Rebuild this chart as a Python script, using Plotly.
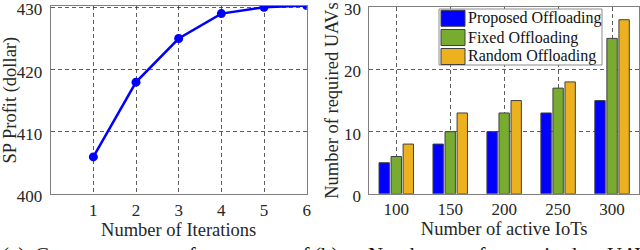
import plotly.graph_objects as go
from plotly.subplots import make_subplots

# Left panel data
iterations = [1, 2, 3, 4, 5, 6]
sp_profit = [406, 418, 425, 429, 430, 430.3]

# Right panel data
iot_counts = ["100", "150", "200", "250", "300"]
proposed = [5, 8, 10, 13, 15]
fixed = [6, 10, 13, 17, 25]
random_off = [8, 13, 15, 18, 28]
series_names = ["Proposed Offloading", "Fixed Offloading", "Random Offloading"]
series_colors = ["#0000FF", "#77AC30", "#EDB120"]

FONT = "Liberation Serif, Times New Roman, serif"
TXT = "#262626"
GRID = "rgba(40,40,40,0.75)"
FRAME = "#7f7f7f"
W, H = 640, 250

fig = make_subplots(rows=1, cols=2)

fig.add_trace(go.Scatter(
    x=iterations, y=sp_profit, mode="lines+markers",
    line=dict(color="#0000FF", width=2.5),
    marker=dict(color="#0000FF", size=9, symbol="circle"),
    showlegend=False), row=1, col=1)

for name, vals, col in zip(series_names, [proposed, fixed, random_off], series_colors):
    fig.add_trace(go.Bar(x=iot_counts, y=vals, name=name, showlegend=False,
                         marker=dict(color=col, line=dict(color="#404040", width=1))),
                  row=1, col=2)

axis_common = dict(showline=True, mirror=True, linecolor=FRAME, linewidth=1,
                   showgrid=True, gridcolor=GRID, griddash="4px,3px", gridwidth=1,
                   zeroline=False, ticks="", automargin=False,
                   ticklabeloverflow="allow",
                   tickfont=dict(family=FONT, size=17, color=TXT))

fig.update_xaxes(**axis_common)
fig.update_yaxes(**axis_common)

title_font = dict(family=FONT, size=18.5, color=TXT)
fig.update_xaxes(domain=[0.0792, 0.4792], range=[0, 6], tickvals=iterations,
                 ticklabelstandoff=0,
                 title=dict(text="Number of Iterations", standoff=1, font=title_font),
                 row=1, col=1)
fig.update_yaxes(domain=[0.2228, 0.9756], range=[400, 430.2], tickvals=[400, 410, 420, 430],
                 ticklabelstandoff=4, ticklabelshift=2,
                 title=dict(text="SP Profit (dollar)", standoff=8, font=title_font),
                 row=1, col=1)
fig.update_xaxes(domain=[0.577, 0.9985], ticklabelstandoff=0,
                 title=dict(text="Number of active IoTs", standoff=1, font=title_font),
                 row=1, col=2)
fig.update_yaxes(domain=[0.2248, 0.9708], range=[0, 30], tickvals=[0, 10, 20, 30],
                 ticklabelstandoff=4, ticklabelshift=2,
                 title=dict(text="Number of required UAVs", standoff=0, font=title_font),
                 row=1, col=2)

# Legend box drawn inside the right panel (pixel layout of the reference legend)
def px_x(v):
    return v / W

def px_y(v):
    return (H - v) / H

fig.add_shape(type="rect", xref="paper", yref="paper",
              x0=px_x(439), x1=px_x(602), y0=px_y(65), y1=px_y(9),
              fillcolor="white", line=dict(color="#8c8c8c", width=1), layer="above")
row_centers = [18.3, 37.5, 56.5]
for name, col, cy in zip(series_names, series_colors, row_centers):
    fig.add_shape(type="rect", xref="paper", yref="paper",
                  x0=px_x(441), x1=px_x(465), y0=px_y(cy + 8), y1=px_y(cy - 8),
                  fillcolor=col, line=dict(color="#404040", width=1), layer="above")
    fig.add_annotation(text=name, x=px_x(466), y=px_y(cy), xref="paper", yref="paper",
                       xanchor="left", yanchor="middle", showarrow=False,
                       font=dict(family=FONT, size=16, color="#111"))

# Caption fragments (clipped at bottom of the picture, as in the reference)
cap_words = [("(a)", 0), ("Convergence", 33), ("performance", 160), ("of", 290),
             ("(b)", 312), ("Number", 366), ("of", 466), ("required", 505), ("UAV", 605)]
for w, px in cap_words:
    fig.add_annotation(text=w, x=px_x(px), y=px_y(241), xref="paper", yref="paper",
                       xanchor="left", yanchor="top", showarrow=False,
                       font=dict(family=FONT, size=21, color="#111"))

fig.update_layout(
    width=W, height=H,
    margin=dict(l=0, r=0, t=0, b=0),
    paper_bgcolor="white", plot_bgcolor="white",
    barmode="group", bargap=0.33, bargroupgap=0.14,
    showlegend=False,
    font=dict(family=FONT, color=TXT),
)

fig.write_html("out.html", config={"displayModeBar": False},
               post_script="document.body.style.margin='0';document.body.style.padding='0';")
